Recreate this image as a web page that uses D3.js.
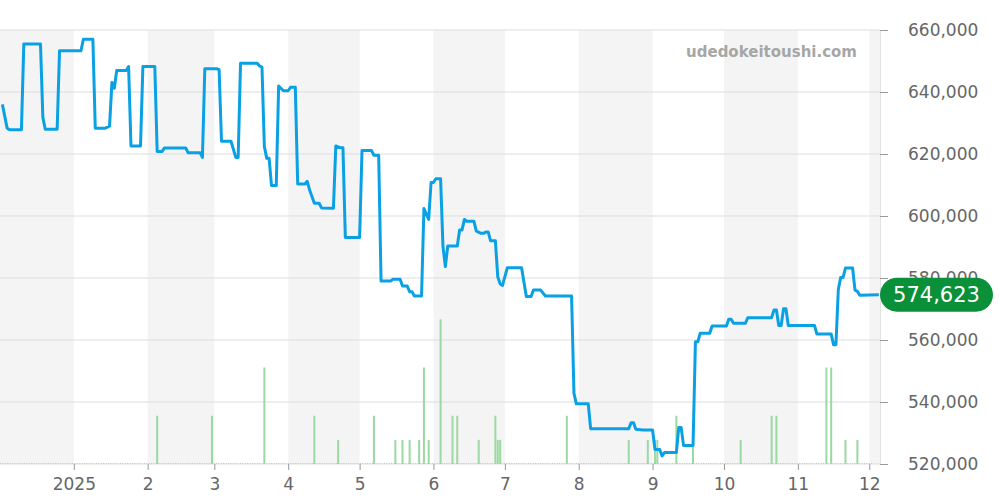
<!DOCTYPE html>
<html>
<head>
<meta charset="utf-8">
<script src="https://cdn.jsdelivr.net/npm/d3@7"></script>
<style>
  body { margin: 0; background: #fff; }
  svg text { font-family: "DejaVu Sans", sans-serif; }
</style>
</head>
<body>
<div class="chart"></div>
<script>
// price series (date, yen)
var priceDates = ["2024-12-02","2024-12-04","2024-12-05","2024-12-10","2024-12-11","2024-12-18","2024-12-19","2024-12-20","2024-12-25","2024-12-26",
  "2025-01-04","2025-01-05","2025-01-09","2025-01-10","2025-01-14","2025-01-16","2025-01-17","2025-01-18","2025-01-19","2025-01-23",
  "2025-01-24","2025-01-25","2025-01-29","2025-01-30","2025-02-04","2025-02-05","2025-02-07","2025-02-08","2025-02-17","2025-02-18",
  "2025-02-23","2025-02-24","2025-02-25","2025-03-02","2025-03-03","2025-03-04","2025-03-08","2025-03-10","2025-03-11","2025-03-12",
  "2025-03-19","2025-03-20","2025-03-21","2025-03-22","2025-03-23","2025-03-24","2025-03-25","2025-03-27","2025-03-28","2025-03-30",
  "2025-04-01","2025-04-02","2025-04-04","2025-04-05","2025-04-08","2025-04-09","2025-04-10","2025-04-12","2025-04-14","2025-04-15",
  "2025-04-20","2025-04-21","2025-04-23","2025-04-24","2025-04-25","2025-05-01","2025-05-02","2025-05-06","2025-05-07","2025-05-09",
  "2025-05-10","2025-05-14","2025-05-15","2025-05-18","2025-05-19","2025-05-21","2025-05-22","2025-05-23","2025-05-24","2025-05-27",
  "2025-05-28","2025-05-30","2025-05-31","2025-06-01","2025-06-02","2025-06-04","2025-06-05","2025-06-06","2025-06-07","2025-06-11",
  "2025-06-12","2025-06-13","2025-06-14","2025-06-15","2025-06-18","2025-06-19","2025-06-21","2025-06-22","2025-06-23","2025-06-24",
  "2025-06-25","2025-06-27","2025-06-28","2025-06-29","2025-06-30","2025-07-02","2025-07-08","2025-07-10","2025-07-12","2025-07-13",
  "2025-07-16","2025-07-18","2025-07-29","2025-07-30","2025-07-31","2025-08-05","2025-08-06","2025-08-22","2025-08-23","2025-08-24",
  "2025-08-25","2025-08-28","2025-09-01","2025-09-02","2025-09-04","2025-09-05","2025-09-06","2025-09-11","2025-09-12","2025-09-13",
  "2025-09-14","2025-09-18","2025-09-19","2025-09-20","2025-09-21","2025-09-25","2025-09-26","2025-10-02","2025-10-03","2025-10-04",
  "2025-10-05","2025-10-10","2025-10-11","2025-10-21","2025-10-22","2025-10-23","2025-10-24","2025-10-25","2025-10-26","2025-10-27",
  "2025-10-28","2025-11-08","2025-11-09","2025-11-15","2025-11-16","2025-11-17","2025-11-18","2025-11-19","2025-11-20","2025-11-21",
  "2025-11-24","2025-11-25","2025-11-26","2025-11-27","2025-12-05"];
var priceValues = [636000,628300,627800,627800,655500,655500,631800,628000,628000,653300,
  653300,657000,657000,628300,628300,629000,643100,641200,646900,646900,
  648200,622600,622600,648200,648200,620800,620800,621900,621900,620400,
  620400,618900,647500,647500,647200,624100,624100,618900,618900,649300,
  649300,648400,648000,622400,618600,618600,609800,609800,641900,640400,
  640400,641500,641500,610300,610300,611200,608400,604100,604100,602600,
  602500,622600,622000,622000,593100,593100,621100,621100,619600,619600,
  579000,579000,579600,579600,577400,577400,575600,575600,574200,574200,
  602400,598900,610800,610800,612000,612000,590100,583700,590300,590300,
  595500,595500,598900,598300,598300,595100,594400,594400,594800,594800,
  592000,592000,580400,578100,577600,583300,583300,574000,574000,576100,
  576100,574200,574200,542800,539400,539400,531400,531400,533300,533300,
  531200,531000,531000,524700,524700,522600,523700,523700,531800,531800,
  526000,526000,559400,559400,562200,562200,564500,564500,566700,566700,
  565400,565400,567200,567200,569700,569700,564700,564700,570100,570100,
  564700,564700,561900,561900,558500,558500,576300,580200,580200,583200,
  583200,576100,575700,574400,574623];
var lastPrice = 574623;

// traded volume per day
var volumeDates = ["2025-02-05","2025-02-28","2025-03-22","2025-04-12","2025-04-22","2025-05-07","2025-05-16","2025-05-19","2025-05-22","2025-05-26",
  "2025-05-28","2025-05-30","2025-06-04","2025-06-09","2025-06-11","2025-06-20","2025-06-27","2025-06-28","2025-06-29","2025-07-27",
  "2025-08-22","2025-08-30","2025-09-02","2025-09-03","2025-09-11","2025-09-18","2025-10-08","2025-10-21","2025-10-23","2025-11-13",
  "2025-11-15","2025-11-21","2025-11-26"];
var volumeValues = [2,2,4,2,1,2,1,1,1,1,
  4,1,6,2,2,1,2,1,1,2,
  1,1,1,1,2,1,1,2,2,4,
  4,1,1];

var yTicks = [520000,540000,560000,580000,600000,620000,640000,660000];

var svgWidth = 1000, svgHeight = 500;
var plot = {left: 0, right: 880, top: 30, bottom: 464};

var parse = d3.timeParse("%Y-%m-%d");
var prices = priceDates.map(function(d, i) { return {date: parse(d), value: priceValues[i]}; });
var volumes = volumeDates.map(function(d, i) { return {date: parse(d), value: volumeValues[i]}; });

var svg = d3.select(".chart").append("svg")
  .attr("width", svgWidth)
  .attr("height", svgHeight);

var x = d3.scaleTime()
  .domain([new Date(2024, 11, 1), new Date(2025, 11, 5, 12)])
  .range([plot.left, plot.right]);
var y = d3.scaleLinear().domain([520000, 660000]).range([plot.bottom, plot.top]);
var yVol = d3.scaleLinear().domain([0, 18]).range([plot.bottom, plot.top]);

// alternating month bands
var months = d3.timeMonth.range(new Date(2024, 11, 1), new Date(2026, 0, 1));
svg.append("g").selectAll("rect")
  .data(months.filter(function(m, i) { return i % 2 === 0; }))
  .enter().append("rect")
  .attr("x", function(m) { return Math.max(plot.left, x(m)); })
  .attr("y", plot.top)
  .attr("width", function(m) { return Math.min(plot.right, x(d3.timeMonth.offset(m, 1))) - Math.max(plot.left, x(m)); })
  .attr("height", plot.bottom - plot.top)
  .attr("fill", "#f4f4f4");

// gridlines
svg.append("g").selectAll("line")
  .data(yTicks)
  .enter().append("line")
  .attr("x1", plot.left).attr("x2", plot.right)
  .attr("y1", function(d) { return y(d); })
  .attr("y2", function(d) { return y(d); })
  .attr("stroke", "#dddddd").attr("stroke-width", 1);

svg.append("line")
  .attr("x1", plot.right + 0.5).attr("x2", plot.right + 0.5)
  .attr("y1", plot.top).attr("y2", plot.bottom)
  .attr("stroke", "#e2e2e2");

// watermark
svg.append("text")
  .attr("x", 857).attr("y", 57)
  .attr("text-anchor", "end")
  .attr("font-size", 15).attr("font-weight", "bold")
  .attr("fill", "#a6a6a6")
  .text("udedokeitoushi.com");

// volume baseline (days without trades)
svg.append("line")
  .attr("x1", plot.left).attr("x2", plot.right - 8)
  .attr("y1", plot.bottom - 0.5).attr("y2", plot.bottom - 0.5)
  .attr("stroke", "#a8dcae").attr("stroke-width", 1)
  .attr("stroke-dasharray", "1,1.4");

// volume bars
svg.append("g").selectAll("rect")
  .data(volumes)
  .enter().append("rect")
  .attr("x", function(d) { return x(d.date) - 1; })
  .attr("y", function(d) { return yVol(d.value); })
  .attr("width", 2)
  .attr("height", function(d) { return plot.bottom - yVol(d.value); })
  .attr("fill", "#9bd8a2");

// price line
var line = d3.line()
  .x(function(d) { return x(d.date); })
  .y(function(d) { return y(d.value); });

svg.append("path")
  .datum(prices)
  .attr("d", line)
  .attr("fill", "none")
  .attr("stroke", "#0aa0e4")
  .attr("stroke-width", 3)
  .attr("stroke-linejoin", "round");

// right axis
var yAxis = svg.append("g")
  .attr("transform", "translate(" + plot.right + ",0)")
  .call(d3.axisRight(y).tickValues(yTicks).tickSize(8).tickPadding(20).tickFormat(d3.format(",")));
yAxis.select(".domain").remove();
yAxis.selectAll("line").attr("stroke", "#999");
yAxis.selectAll("text").attr("font-size", 17).attr("fill", "#666")
  .style("font-family", "DejaVu Sans, sans-serif");

// bottom axis
var monthTicks = d3.timeMonth.range(new Date(2025, 0, 1), new Date(2025, 11, 2));
var xAxis = svg.append("g")
  .attr("transform", "translate(0," + plot.bottom + ")")
  .call(d3.axisBottom(x).tickValues(monthTicks).tickSize(6).tickPadding(8)
    .tickFormat(function(d) { return d.getMonth() === 0 ? d.getFullYear() : (d.getMonth() + 1); }));
xAxis.select(".domain").remove();
xAxis.selectAll("line").attr("stroke", "#999");
xAxis.selectAll("text").attr("font-size", 17).attr("fill", "#666")
  .style("font-family", "DejaVu Sans, sans-serif");

// last price badge
var badge = svg.append("g").attr("transform", "translate(" + plot.right + "," + y(lastPrice) + ")");
badge.append("rect")
  .attr("x", 0).attr("y", -17)
  .attr("width", 113).attr("height", 34)
  .attr("rx", 17)
  .attr("fill", "#0a9039");
badge.append("text")
  .attr("x", 56.5).attr("y", 0)
  .attr("dy", "0.36em")
  .attr("text-anchor", "middle")
  .attr("font-size", 21)
  .attr("fill", "#fff")
  .text(d3.format(",")(lastPrice));
</script>
</body>
</html>
